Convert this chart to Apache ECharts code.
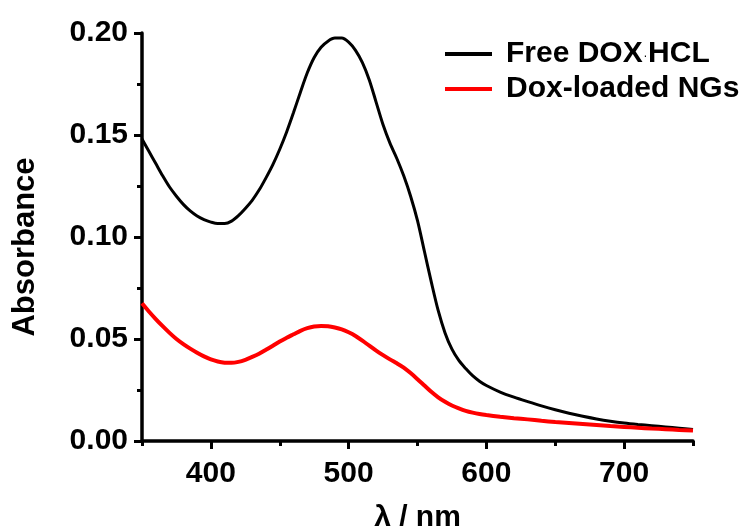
<!DOCTYPE html>
<html><head><meta charset="utf-8">
<script src="https://cdn.jsdelivr.net/npm/echarts@6/dist/echarts.min.js"></script>
<style>html,body{margin:0;padding:0;background:#fff}#c{width:741px;height:528px}</style>
</head><body><div id="c"></div>
<script>
const freeNm  = [350,355,360,365,370,375,380,385,390,395,400,405,410,415,420,425,430,435,440,445,450,455,460,465,470,475,480,485,490,495,500,505,510,515,520,525,530,535,540,545,550,555,560,565,570,575,580,585,590,595,600,610,620,630,640,650,660,670,680,690,700,710,720,730,740,750];
const freeAbs = [0.148,0.142,0.136,0.130,0.1245,0.120,0.116,0.1128,0.1103,0.1085,0.1073,0.1066,0.1066,0.1078,0.1105,0.1140,0.1180,0.1230,0.1290,0.1355,0.1430,0.1515,0.1610,0.1710,0.1805,0.1880,0.1930,0.1960,0.1975,0.1975,0.1955,0.1915,0.1855,0.1770,0.1660,0.1550,0.1460,0.1385,0.1300,0.1200,0.1080,0.0930,0.0780,0.0640,0.0530,0.0450,0.0395,0.0355,0.0320,0.0293,0.0272,0.0240,0.0215,0.0193,0.0172,0.0153,0.0136,0.0121,0.0108,0.0097,0.0088,0.0081,0.0075,0.0069,0.0063,0.0057];
const ngNm  = [350,355,360,365,370,375,380,385,390,395,400,405,410,415,420,425,430,435,440,445,450,455,460,465,470,475,480,485,490,495,500,505,510,515,520,525,530,535,540,545,550,555,560,565,570,575,580,585,590,595,600,610,620,630,640,650,660,670,680,690,700,710,720,730,740,750];
const ngAbs = [0.0675,0.0635,0.0598,0.0563,0.0530,0.0500,0.0475,0.0453,0.0433,0.0415,0.0400,0.0390,0.0384,0.0383,0.0388,0.0398,0.0412,0.0428,0.0447,0.0467,0.0488,0.0506,0.0523,0.0540,0.0553,0.0561,0.0564,0.0562,0.0556,0.0547,0.0533,0.0515,0.0492,0.0467,0.0443,0.0421,0.0400,0.0381,0.0360,0.0333,0.0303,0.0272,0.0241,0.0214,0.0192,0.0174,0.0160,0.0148,0.0139,0.0132,0.0127,0.0119,0.0112,0.0106,0.0099,0.0093,0.0088,0.0083,0.0078,0.0073,0.0069,0.0065,0.0061,0.0058,0.0054,0.0051];
const xMajor = [400,500,600,700];
const xMinor = [350,450,550,650,750];
const seriesNames = ['Free DOX.HCL','Dox-loaded NGs'];

const FONT = '"Liberation Sans", Arial, sans-serif';
const chart = echarts.init(document.getElementById('c'), null, {renderer:'canvas'});
const zip = (a,b) => a.map((x,i)=>[x,b[i]]);
chart.setOption({
  animation:false,
  backgroundColor:'#fff',
  grid:{left:142,right:48,top:33,bottom:87,containLabel:false,outerBoundsMode:'none'},
  legend:{
    orient:'vertical', left:440, top:34, itemWidth:47, itemHeight:4, itemGap:5,
    icon:'rect',
    data:[{name:seriesNames[0]},{name:seriesNames[1]}],
    formatter:function(n){ return n===seriesNames[0] ? '{a|Free DOX}{d|.}{a|HCL}' : '{a|'+n+'}'; },
    textStyle:{padding:[0,0,0,9], rich:{
      a:{fontFamily:FONT,fontWeight:'bold',fontSize:30,color:'#000'},
      d:{fontFamily:FONT,fontSize:12,color:'#000',padding:[0,1,0,1]}
    }}
  },
  xAxis:[{
    type:'value', min:350, max:750, interval:50,
    name:'λ / nm', nameLocation:'middle', nameGap:62,
    nameTextStyle:{fontFamily:FONT,fontWeight:'bold',fontSize:30,color:'#000'},
    axisLine:{lineStyle:{color:'#000',width:3.5}},
    axisTick:{customValues:xMajor,length:8,lineStyle:{color:'#000',width:3}},
    axisLabel:{customValues:xMajor,fontFamily:FONT,fontWeight:'bold',fontSize:30,color:'#000',margin:18},
    splitLine:{show:false}
  },{
    type:'value', min:350, max:750, interval:50, position:'bottom',
    axisLine:{show:false},
    axisTick:{customValues:xMinor,length:5,lineStyle:{color:'#000',width:3}},
    axisLabel:{show:false}, splitLine:{show:false}
  }],
  yAxis:{
    type:'value', min:0, max:0.20, interval:0.05,
    name:'Absorbance', nameLocation:'middle', nameGap:101, nameRotate:90,
    nameTextStyle:{fontFamily:FONT,fontWeight:'bold',fontSize:31,color:'#000',padding:[0,20,0,0]},
    axisLine:{lineStyle:{color:'#000',width:3.5}},
    axisTick:{length:8,lineStyle:{color:'#000',width:3}},
    minorTick:{show:true,splitNumber:2,length:5,lineStyle:{color:'#000',width:3}},
    axisLabel:{fontFamily:FONT,fontWeight:'bold',fontSize:30,color:'#000',margin:14,
      formatter:v=>v.toFixed(2)},
    splitLine:{show:false}
  },
  series:[
    {name:seriesNames[0],type:'line',data:zip(freeNm,freeAbs),smooth:0.3,showSymbol:false,
     lineStyle:{color:'#000',width:3},itemStyle:{color:'#000'}},
    {name:seriesNames[1],type:'line',data:zip(ngNm,ngAbs),smooth:0.3,showSymbol:false,
     lineStyle:{color:'#ff0000',width:4},itemStyle:{color:'#ff0000'}}
  ]
});
</script></body></html>
